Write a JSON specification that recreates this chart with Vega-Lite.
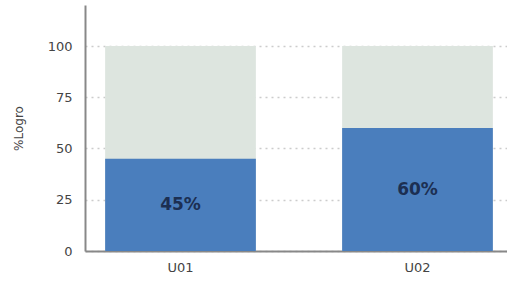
{
  "$schema": "https://vega.github.io/schema/vega-lite/v6.json",
  "autosize": {"type": "none"},
  "width": 428,
  "height": 246,
  "padding": {"left": 85, "top": 5, "right": 0, "bottom": 31},
  "background": "white",
  "config": {"view": {"stroke": null}, "font": "DejaVu Sans"},
  "data": {"values": [
    {"unidad": "U01", "logro": 45, "total": 100, "etiqueta": "45%"},
    {"unidad": "U02", "logro": 60, "total": 100, "etiqueta": "60%"}
  ]},
  "encoding": {
    "x": {"field": "unidad", "type": "nominal", "sort": null,
      "scale": {"paddingInner": 0.364, "paddingOuter": 0.085},
      "axis": {"title": null, "labelAngle": 0, "labelFont": "DejaVu Sans", "labelFontSize": 13, "labelColor": "#444", "ticks": false, "labelPadding": 10, "domainColor": "#888", "domainWidth": 2}
    }
  },
  "layer": [
    {
      "layer": [
        {
          "mark": {"type": "bar", "color": "#dde5df"},
          "encoding": {
            "y": {"field": "total", "type": "quantitative",
              "scale": {"domain": [0, 120], "nice": false},
              "axis": {"title": "%Logro", "titleFont": "DejaVu Sans", "titleFontSize": 12, "titleFontWeight": "normal", "titleColor": "#444", "titlePadding": 22,
                "values": [0, 25, 50, 75, 100], "labelFont": "DejaVu Sans", "labelFontSize": 13, "labelColor": "#444", "ticks": false, "labelPadding": 13,
                "domainColor": "#888", "domainWidth": 2,
                "grid": true, "gridColor": "#cccccc", "gridDash": [2, 4], "gridWidth": 1.5}
            }
          }
        },
        {
          "mark": {"type": "bar", "color": "#4a7ebd"},
          "encoding": {
            "y": {"field": "logro", "type": "quantitative"}
          }
        }
      ]
    },
    {
      "mark": {"type": "text", "fontSize": 17, "fontWeight": "bold", "color": "#1c2f52", "baseline": "middle"},
      "encoding": {
        "y": {"field": "logro", "type": "quantitative", "scale": {"domain": [0, 240], "nice": false}, "axis": null},
        "text": {"field": "etiqueta"}
      }
    }
  ],
  "resolve": {"scale": {"y": "independent"}, "axis": {"y": "independent"}}
}
